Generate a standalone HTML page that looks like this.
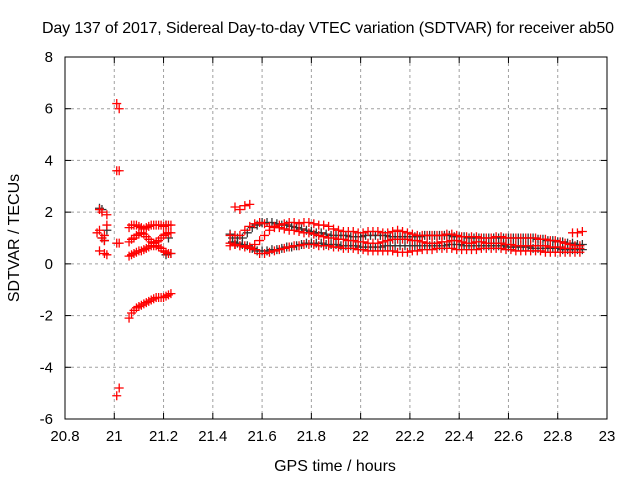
<!DOCTYPE html>
<html><head><meta charset="utf-8"><style>
body{margin:0;background:#fff}
svg text{font-family:"Liberation Sans",sans-serif;font-size:15px;fill:#000}
svg text.big{font-size:16px}
</style></head><body>
<svg id="c" width="640" height="480" viewBox="0 0 640 480">
<rect width="640" height="480" fill="#fff"/>
<g id="grid"></g><g id="blk"></g><g id="red"></g><g id="axes"></g>
<text class="big" x="328" y="33" text-anchor="middle" textLength="572">Day 137 of 2017, Sidereal Day-to-day VTEC variation (SDTVAR) for receiver ab50</text>
<text class="big" x="335" y="471" text-anchor="middle">GPS time / hours</text>
<text class="big" transform="translate(19,238) rotate(-90)" text-anchor="middle">SDTVAR / TECUs</text>
</svg>
<script>
const xTicks=[20.8,21,21.2,21.4,21.6,21.8,22,22.2,22.4,22.6,22.8,23];
const xTickLabels=["20.8","21","21.2","21.4","21.6","21.8","22","22.2","22.4","22.6","22.8","23"];
const yTicks=[-6,-4,-2,0,2,4,6,8];
const yTickLabels=["-6","-4","-2","0","2","4","6","8"];
const redPoints=[[20.93,1.2],[20.94,1.3],[20.95,1.0],[20.96,1.1],[20.94,0.5],[20.96,0.4],[20.97,0.35],[20.94,2.1],[20.95,2.0],[20.97,1.9],[20.97,1.5],[20.96,0.9],
[21.01,6.2],[21.02,6.0],[21.01,3.6],[21.02,3.6],[21.01,0.8],[21.02,0.8],[21.01,-5.1],[21.02,-4.8],[21.49,2.2],[21.51,2.1],[21.53,2.25],[21.55,2.3],[22.86,1.2],[22.88,1.2],[22.9,1.25]];
const redB1=[1.4,1.5,1.5,1.5,1.45,1.4,1.35,1.4,1.45,1.5,1.5,1.5,1.5,1.5,1.45,1.5,1.5,1.5];
const redB2=[0.85,0.95,1.0,1.1,1.15,1.2,1.15,1.05,0.95,0.85,0.8,0.85,0.9,1.0,1.1,1.15,1.2,1.2];
const redB3=[0.3,0.35,0.4,0.45,0.5,0.5,0.55,0.6,0.65,0.7,0.7,0.7,0.65,0.6,0.5,0.45,0.4,0.4];
const redB4=[-2.1,-1.9,-1.8,-1.7,-1.65,-1.6,-1.55,-1.5,-1.45,-1.4,-1.35,-1.3,-1.3,-1.3,-1.3,-1.25,-1.2,-1.15];
const redT1=[1.1,1.1,1.1,1.3,1.45,1.55,1.6,1.55,1.45,1.45,1.5,1.55,1.6,1.6,1.55,1.6,1.6,1.55,1.5,1.5,1.45,1.35,1.3,1.25,1.25,1.25,1.2,1.2,1.25,1.25,1.25,1.2,1.2,1.25,1.3,1.25,1.2,1.15,1.1,1.1,1.1,1.1,1.1,1.1,1.15,1.15,1.1,1.05,1.05,1.05,1.05,1.0,1.0,1.0,1.05,1.05,1.0,1.0,1.0,1.0,1.0,1.0,1.0,0.95,0.95,0.9,0.9,0.85,0.8,0.75,0.7,0.7];
const redT2=[0.8,0.75,0.7,0.65,0.6,0.75,0.9,1.1,1.3,1.4,1.4,1.35,1.3,1.3,1.25,1.2,1.2,1.15,1.1,1.05,1.0,1.0,0.95,0.95,0.9,0.9,0.85,0.85,0.8,0.8,0.8,0.85,0.9,0.95,0.95,0.95,0.95,0.9,0.9,0.85,0.8,0.8,0.8,0.85,0.85,0.9,0.9,0.85,0.8,0.8,0.85,0.85,0.8,0.8,0.8,0.8,0.75,0.75,0.7,0.7,0.7,0.7,0.7,0.7,0.7,0.65,0.65,0.65,0.6,0.6,0.6,0.6];
const redT3=[0.7,0.75,0.7,0.7,0.65,0.55,0.4,0.4,0.45,0.5,0.55,0.6,0.65,0.7,0.7,0.75,0.75,0.75,0.7,0.7,0.7,0.65,0.65,0.6,0.6,0.6,0.55,0.55,0.5,0.5,0.5,0.5,0.5,0.5,0.45,0.45,0.45,0.5,0.5,0.55,0.55,0.55,0.6,0.6,0.6,0.6,0.55,0.55,0.55,0.55,0.55,0.6,0.6,0.6,0.6,0.6,0.55,0.55,0.5,0.5,0.5,0.5,0.5,0.5,0.45,0.45,0.45,0.45,0.45,0.45,0.45,0.45];
const blkPoints=[[20.94,2.15],[20.95,2.1],[20.95,1.0],[20.96,0.9],[20.97,1.3],[21.21,1.5],[21.22,1.0],[21.23,0.4],[21.21,0.35],[21.47,1.15],[21.49,0.75]];
const blkT1=[1.0,1.0,1.0,1.2,1.4,1.5,1.6,1.6,1.6,1.55,1.5,1.5,1.45,1.4,1.35,1.3,1.25,1.2,1.2,1.15,1.1,1.1,1.1,1.1,1.05,1.05,1.05,1.1,1.1,1.1,1.1,1.1,1.05,1.05,1.05,1.05,1.05,1.05,1.05,1.1,1.1,1.1,1.1,1.1,1.1,1.05,1.05,1.05,1.0,1.0,1.0,1.0,1.0,1.0,1.0,1.0,1.0,1.0,1.0,1.0,1.0,1.0,0.95,0.95,0.9,0.9,0.85,0.85,0.8,0.8,0.75,0.75];
const blkT2=[0.85,0.8,0.75,0.7,0.6,0.5,0.5,0.5,0.55,0.55,0.6,0.65,0.65,0.7,0.75,0.8,0.8,0.8,0.8,0.75,0.75,0.75,0.7,0.7,0.7,0.7,0.65,0.65,0.65,0.65,0.65,0.7,0.7,0.7,0.7,0.7,0.7,0.7,0.7,0.7,0.7,0.7,0.7,0.7,0.75,0.75,0.75,0.7,0.7,0.7,0.7,0.7,0.7,0.7,0.7,0.7,0.65,0.65,0.65,0.65,0.65,0.6,0.6,0.6,0.6,0.6,0.6,0.55,0.55,0.55,0.55,0.55];

const L=65,R=607,T=57,B=419,NS="http://www.w3.org/2000/svg";
const xs=v=>L+(v-20.8)/2.2*(R-L);
const ys=v=>B-(v+6)/14*(B-T);
function mk(tag,attrs,parent){const e=document.createElementNS(NS,tag);for(const k in attrs)e.setAttribute(k,attrs[k]);parent.appendChild(e);return e;}
const grid=document.getElementById('grid'),axes=document.getElementById('axes');
xTicks.forEach((v,i)=>{const x=xs(v);
 if(i>0&&i<xTicks.length-1){const g=mk('line',{x1:x,x2:x,y1:T,y2:B,stroke:'#a0a0a0','stroke-dasharray':'3,3'},grid);
 
 }
 mk('line',{x1:x,x2:x,y1:B,y2:B-6,stroke:'#000'},axes);mk('line',{x1:x,x2:x,y1:T,y2:T+6,stroke:'#000'},axes);
 const t=mk('text',{x:x,y:B+22,'text-anchor':'middle'},axes);t.textContent=xTickLabels[i];
 
 });
yTicks.forEach((v,i)=>{const y=ys(v);
 if(i>0&&i<yTicks.length-1){const g=mk('line',{x1:L,x2:R,y1:y,y2:y,stroke:'#a0a0a0','stroke-dasharray':'3,3'},grid);
 
 }
 mk('line',{x1:L,x2:L+6,y1:y,y2:y,stroke:'#000'},axes);mk('line',{x1:R,x2:R-6,y1:y,y2:y,stroke:'#000'},axes);
 const t=mk('text',{x:L-12,y:y+5,'text-anchor':'end'},axes);t.textContent=yTickLabels[i];
 
 });
const fr=mk('rect',{x:L,y:T,width:R-L,height:B-T,fill:'none',stroke:'#000'},axes);


function plus(g,h,v,col,name){const x=xs(h),y=ys(v);
 const p=mk('path',{d:`M${x-4.5} ${y}h9M${x} ${y-4.5}v9`,stroke:col,'stroke-width':1.3,fill:'none'},g);
 
 }
function track(g,start,step,vals,col,name){vals.forEach((v,i)=>{plus(g,start+i*step,v,col,name);});}
const blk=document.getElementById('blk'),red=document.getElementById('red');
blkPoints.forEach(p=>plus(blk,p[0],p[1],'#333','black-point'));
track(blk,21.48,0.02,blkT1,'#333','black-point');
track(blk,21.48,0.02,blkT2,'#333','black-point');
redPoints.forEach(p=>plus(red,p[0],p[1],'#f00','red-point'));
[redB1,redB2,redB3,redB4].forEach(a=>track(red,21.06,0.01,a,'#f00','red-point'));
[redT1,redT2,redT3].forEach(a=>track(red,21.47,0.02,a,'#f00','red-point'));
</script>
</body></html>
